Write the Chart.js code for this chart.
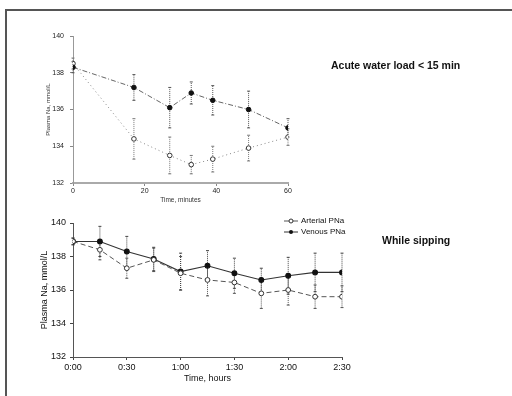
<!DOCTYPE html>
<html>
<head>
<meta charset="utf-8">
<script src="https://cdn.jsdelivr.net/npm/chart.js@4"></script>
<style>
  body { margin: 0; background: #fff; width: 512px; height: 396px; overflow: hidden; position: relative; font-family: "Liberation Sans", Arial, sans-serif; color: #111; }
  canvas { position: absolute; left: 0; }
  #topChart { top: 0; }
  #bottomChart { top: 205px; }
  .frame { position: absolute; left: 5px; top: 9px; width: 520px; height: 400px; border-top: 2px solid #555; border-left: 2px solid #555; }
  .note { position: absolute; font-weight: bold; font-size: 10.5px; white-space: nowrap; }
  .legend { position: absolute; left: 284px; top: 215px; font-size: 8px; line-height: 11px; }
  .legend div { white-space: nowrap; }
  .legend svg { vertical-align: middle; margin-right: 3px; }
</style>
</head>
<body>
<div class="frame"></div>
<canvas id="topChart" width="512" height="215"></canvas>
<canvas id="bottomChart" width="512" height="191"></canvas>
<div class="note" style="left:331px; top:59px;">Acute water load &lt; 15 min</div>
<div class="note" style="left:382px; top:234px;">While sipping</div>
<div class="legend">
  <div><svg width="14" height="6"><line x1="0" y1="3" x2="14" y2="3" stroke="#555" stroke-width="1"/><circle cx="7" cy="3" r="2" fill="#fff" stroke="#333"/></svg>Arterial PNa</div>
  <div><svg width="14" height="6"><line x1="0" y1="3" x2="14" y2="3" stroke="#333" stroke-width="1"/><circle cx="7" cy="3" r="2" fill="#111"/></svg>Venous PNa</div>
</div>
<script>
// top panel: acute water load, minutes
const acuteMinutes = [0, 17, 27, 33, 39, 49, 60];
const acuteVenous = [138.3, 137.2, 136.1, 136.9, 136.5, 136.0, 135.0];
const acuteVenousErr = [0.3, 0.7, 1.1, 0.6, 0.8, 1.0, 0.5];
const acuteArterial = [138.5, 134.4, 133.5, 133.0, 133.3, 133.9, 134.5];
const acuteArterialErr = [0.3, 1.1, 1.0, 0.5, 0.7, 0.7, 0.45];

// bottom panel: while sipping, minutes since start
const sipMinutes = [0, 15, 30, 45, 60, 75, 90, 105, 120, 135, 150];
const sipArterial = [138.9, 138.4, 137.3, 137.8, 137.0, 136.6, 136.45, 135.8, 136.0, 135.6, 135.6];
const sipArterialErr = [0.2, 0.6, 0.6, 0.7, 1.0, 0.95, 0.65, 0.9, 0.9, 0.7, 0.65];
const sipVenous = [138.9, 138.9, 138.3, 137.85, 137.1, 137.45, 137.0, 136.6, 136.85, 137.05, 137.05];
const sipVenousErr = [0.2, 0.9, 0.9, 0.7, 1.1, 0.9, 0.9, 0.7, 1.1, 1.15, 1.15];

const yTicks = [132, 134, 136, 138, 140];
const hourLabels = { 0: '0:00', 30: '0:30', 60: '1:00', 90: '1:30', 120: '2:00', 150: '2:30' };

const FONT = 'Liberation Sans';

function pts(xs, ys) {
    return xs.map((x, i) => ({ x: x, y: ys[i] }));
}

// vertical error bars, drawn under the markers
const errorBars = {
    id: 'errorBars',
    beforeDatasetsDraw(chart) {
        const ctx = chart.ctx;
        const xs = chart.scales.x, ys = chart.scales.y;
        chart.data.datasets.forEach((ds) => {
            if (!ds.err) return;
            ctx.save();
            ctx.strokeStyle = ds.errColor || '#666';
            ctx.lineWidth = 1;
            ctx.setLineDash(ds.errDash || [1, 1]);
            ds.data.forEach((p, i) => {
                const x = xs.getPixelForValue(p.x);
                const y1 = ys.getPixelForValue(p.y - ds.err[i]);
                const y2 = ys.getPixelForValue(p.y + ds.err[i]);
                ctx.beginPath();
                ctx.moveTo(x, y1);
                ctx.lineTo(x, y2);
                ctx.stroke();
                ctx.setLineDash([]);
                ctx.beginPath();
                ctx.moveTo(x - 1.5, y1); ctx.lineTo(x + 1.5, y1);
                ctx.moveTo(x - 1.5, y2); ctx.lineTo(x + 1.5, y2);
                ctx.stroke();
                ctx.setLineDash(ds.errDash || [1, 1]);
            });
            ctx.restore();
        });
    }
};

const topChart = new Chart(document.getElementById('topChart').getContext('2d'), {
    type: 'line',
    data: {
        datasets: [{
            label: 'Venous PNa',
            data: pts(acuteMinutes, acuteVenous),
            err: acuteVenousErr,
            borderColor: '#666',
            borderWidth: 1,
            borderDash: [5, 2, 1, 2],
            pointRadius: 2.3,
            pointBackgroundColor: '#111',
            pointBorderColor: '#111',
            errColor: '#555'
        }, {
            label: 'Arterial PNa',
            data: pts(acuteMinutes, acuteArterial),
            err: acuteArterialErr,
            borderColor: '#888',
            borderWidth: 1,
            borderDash: [1, 3],
            pointRadius: 2.3,
            pointBackgroundColor: '#fff',
            pointBorderColor: '#333',
            pointBorderWidth: 1,
            errColor: '#777'
        }]
    },
    options: {
        responsive: false,
        animation: false,
        layout: { padding: { left: 0, top: 36, right: 224, bottom: 0 } },
        plugins: { legend: { display: false }, tooltip: { enabled: false } },
        scales: {
            x: {
                type: 'linear', min: 0, max: 60,
                afterFit: (s) => { s.height = 32; },
                ticks: { stepSize: 20, padding: 1, color: '#222', font: { family: FONT, size: 7 } },
                grid: { drawOnChartArea: false, tickLength: 3, color: '#888' },
                border: { color: '#aaa', width: 2, dash: [2, 1] },
                title: { display: true, text: 'Time, minutes', color: '#333', font: { family: FONT, size: 6.5 }, padding: { top: 0, bottom: 11 } }
            },
            y: {
                min: 132, max: 140,
                afterFit: (s) => { s.width = 73; },
                afterBuildTicks: (s) => { s.ticks = yTicks.map(v => ({ value: v })); },
                ticks: { padding: 6, color: '#222', font: { family: FONT, size: 7 } },
                grid: { drawOnChartArea: false, tickLength: 3, color: '#888' },
                border: { color: '#999', width: 1, dash: [1, 1] },
                title: { display: true, text: 'Plasma Na, mmol/L', color: '#333', font: { family: FONT, size: 6 }, padding: { top: 45, bottom: 0 } }
            }
        }
    },
    plugins: [errorBars]
});

const bottomChart = new Chart(document.getElementById('bottomChart').getContext('2d'), {
    type: 'line',
    data: {
        datasets: [{
            label: 'Arterial PNa',
            data: pts(sipMinutes, sipArterial),
            err: sipArterialErr,
            borderColor: '#555',
            borderWidth: 1,
            borderDash: [5, 3],
            pointRadius: 2.4,
            pointBackgroundColor: '#fff',
            pointBorderColor: '#333',
            pointBorderWidth: 1,
            errColor: '#555'
        }, {
            label: 'Venous PNa',
            data: pts(sipMinutes, sipVenous),
            err: sipVenousErr,
            borderColor: '#333',
            borderWidth: 1.1,
            pointRadius: 2.4,
            pointBackgroundColor: '#111',
            pointBorderColor: '#111',
            errColor: '#444'
        }]
    },
    options: {
        responsive: false,
        animation: false,
        layout: { padding: { left: 0, top: 18, right: 170, bottom: 0 } },
        plugins: { legend: { display: false }, tooltip: { enabled: false } },
        scales: {
            x: {
                type: 'linear', min: 0, max: 150,
                afterFit: (s) => { s.height = 39; },
                ticks: { stepSize: 30, padding: 2, color: '#111', font: { family: FONT, size: 9 },
                    callback: (v) => hourLabels[v] },
                grid: { drawOnChartArea: false, tickLength: 3, color: '#444' },
                border: { color: '#555', width: 1, dash: [3, 2] },
                title: { display: true, text: 'Time, hours', color: '#111', font: { family: FONT, size: 9 }, padding: { top: 0, bottom: 12 } }
            },
            y: {
                min: 132, max: 140,
                afterFit: (s) => { s.width = 73; },
                afterBuildTicks: (s) => { s.ticks = yTicks.map(v => ({ value: v })); },
                ticks: { padding: 4, color: '#111', font: { family: FONT, size: 9 } },
                grid: { drawOnChartArea: false, tickLength: 3, color: '#444' },
                border: { color: '#555', width: 1, dash: [2, 2] },
                title: { display: true, text: 'Plasma Na, mmol/L', color: '#111', font: { family: FONT, size: 9 }, padding: { top: 39, bottom: 0 } }
            }
        }
    },
    plugins: [errorBars]
});
</script>
</body>
</html>
